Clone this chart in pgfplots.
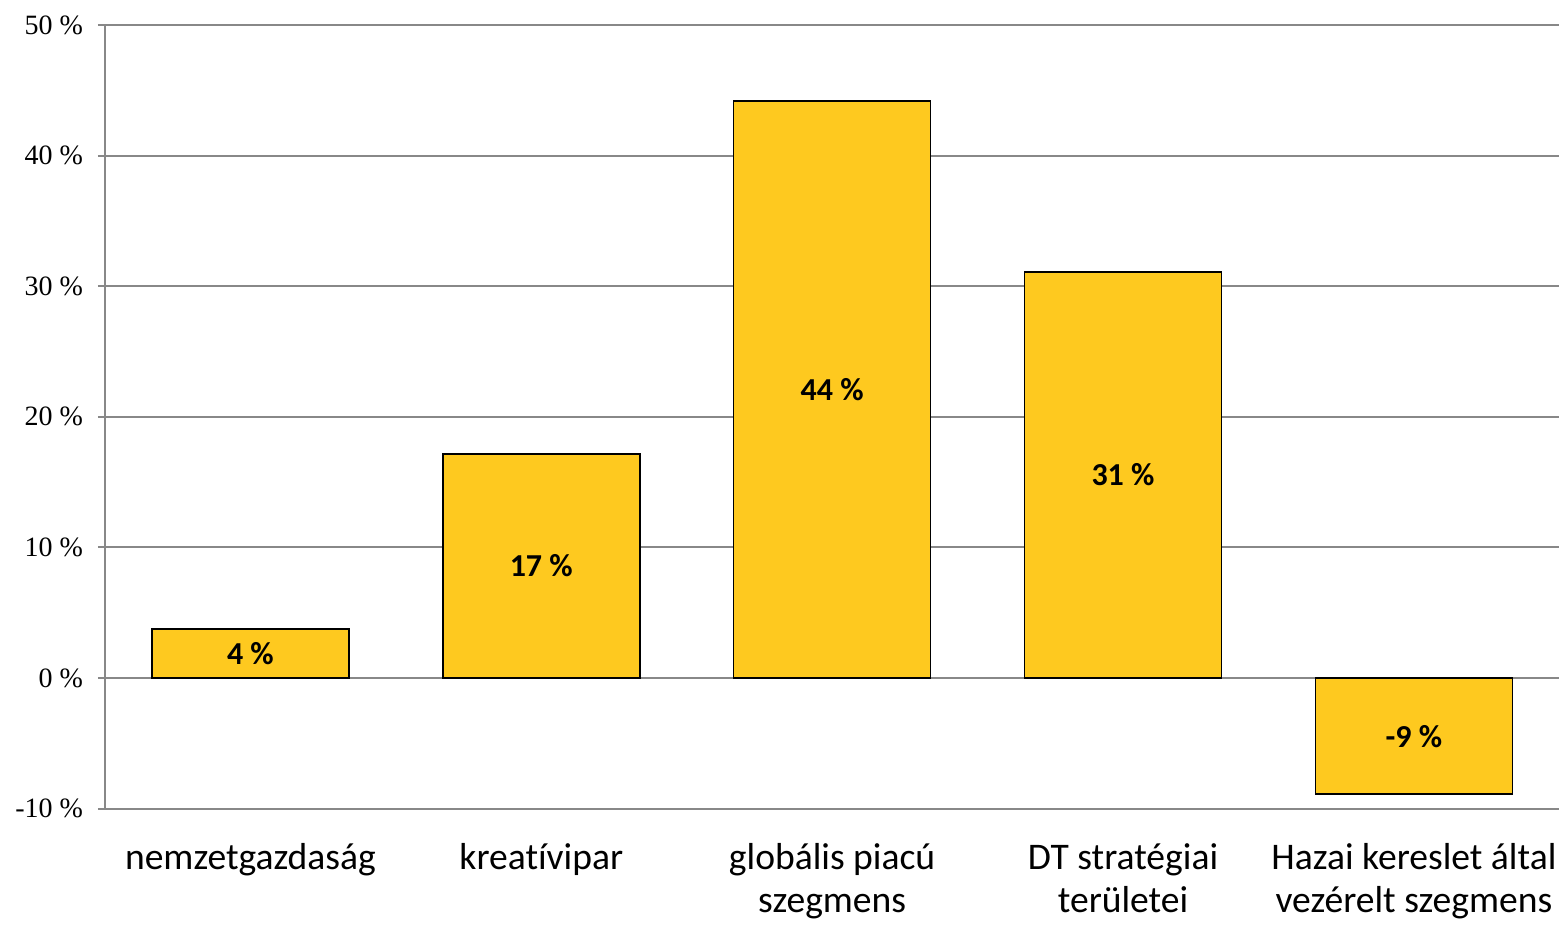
\documentclass[border=0pt]{standalone}
\usepackage{fontspec}
\setmainfont{Carlito}[Ligatures=NoCommon]
\newfontfamily\tickfont{Liberation Serif}
\usepackage{pgfplots}
\pgfplotsset{compat=1.18}

\definecolor{baryellow}{RGB}{254,201,31}
\definecolor{gridgray}{RGB}{136,136,136}

\begin{document}
\begin{tikzpicture}
  \begin{axis}[
      scale only axis,
      width=727.5pt, height=392pt,
      ybar, bar width=0.677,
      xmin=-0.5, xmax=4.5,
      ymin=-10, ymax=50,
      ytick={-10,0,10,20,30,40,50},
      xtick={0,1,2,3,4},
      xticklabels={nemzetgazdaság, kreatívipar, {globális piacú\\szegmens},
        {DT stratégiai\\területei}, {Hazai kereslet által\\vezérelt szegmens}},
      xticklabel style={align=center, font=\fontsize{18.8}{21.5}\selectfont,
        execute at begin node={\baselineskip=21.5pt}, yshift=-10.5pt},
      yticklabel={\pgfmathprintnumber{\tick}~\%},
      yticklabel style={font=\tickfont\fontsize{14}{16}\selectfont, xshift=-4pt},
      /pgf/number format/assume math mode=true,
      axis y line*=left,
      axis x line*=bottom,
      x axis line style={draw=none},
      y axis line style={gridgray, line width=1pt},
      xtick style={draw=none},
      ytick style={gridgray, line width=1pt},
      tick align=outside,
      major tick length=3.5pt,
      ymajorgrids=true,
      grid style={gridgray, line width=1pt},
      clip=false,
      nodes near coords={\pgfmathprintnumber[fixed,precision=0]{\pgfplotspointmeta}~\%},
      visualization depends on={rawy/2 \as \halfy},
      every node near coord/.append style={anchor=center,
        font=\bfseries\fontsize{16}{19}\selectfont,
        shift={(axis direction cs:0,-\halfy)}},
    ]
    \addplot[fill=baryellow, draw=black, line width=0.8pt]
      coordinates {
        (0,3.75)
        (1,17.14)
        (2,44.2)
        (3,31.1)
        (4,-8.9)
      };
  \end{axis}
  \path (current axis.south west) ++(-52.5pt,-56.5pt) coordinate (bl);
  \path (current axis.north east) ++(1.5pt,12.5pt) coordinate (tr);
  \useasboundingbox (bl) rectangle (tr);
\end{tikzpicture}
\end{document}
